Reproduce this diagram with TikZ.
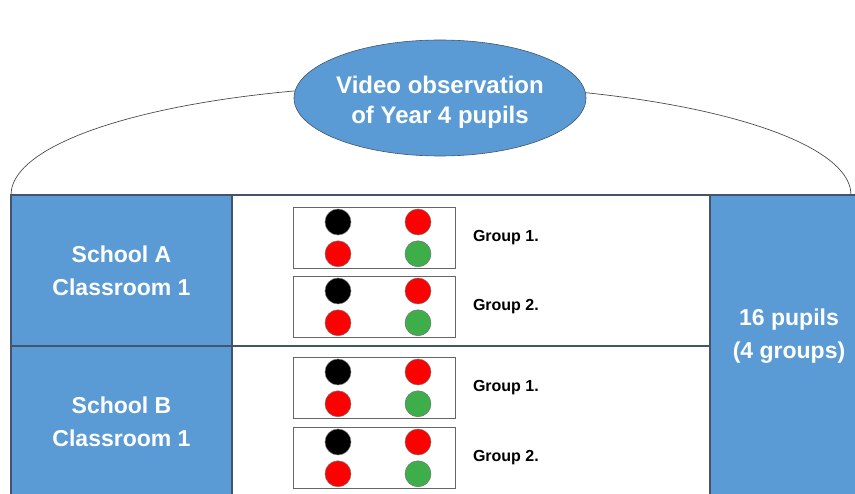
\documentclass[tikz,border=0pt]{standalone}
\usepackage{fontspec}
\setmainfont{Liberation Sans}
\usetikzlibrary{shapes.geometric}
\definecolor{cblue}{HTML}{5B9BD5}
\definecolor{cline}{HTML}{44546A}
\definecolor{cred}{HTML}{FF0000}
\definecolor{cgreen}{HTML}{3DAE49}
\begin{document}
\begin{tikzpicture}[x=1pt,y=-1pt,
  cell/.style={draw=cline,line width=1.2pt,anchor=north west,inner sep=0pt,outer sep=0pt},
  bluetext/.style={text=white,font=\bfseries\fontsize{23}{33}\selectfont,align=center},
  bluecell/.style={cell,fill=cblue,bluetext},
  whitecell/.style={cell,fill=white},
  grpbox/.style={draw=black!60,line width=0.8pt,fill=white,minimum width=162pt,minimum height=61pt,inner sep=0pt,anchor=north west},
  dot/.style={circle,draw=black!55,line width=0.5pt,minimum size=26pt,inner sep=0pt},
  grplabel/.style={anchor=west,font=\bfseries\fontsize{16}{18}\selectfont,inner sep=0pt}
]
\useasboundingbox (0,0) rectangle (855,494);
% arc behind ellipse
\draw[black!70,line width=0.7pt] (11,195) arc[start angle=180,end angle=0,x radius=420pt,y radius=110pt];
% table cells
\node[bluecell,minimum width=221pt,minimum height=151pt] (sa) at (11,195) {School A\\Classroom 1};
\node[bluecell,minimum width=221pt,minimum height=152pt] (sb) at (11,346) {School B\\Classroom 1};
\node[whitecell,minimum width=478pt,minimum height=151pt] (ma) at (232,195) {};
\node[whitecell,minimum width=478pt,minimum height=152pt] (mb) at (232,346) {};
\node[bluecell,minimum width=150pt,minimum height=302pt] (rc) at (710,195) {};
\node[bluetext,inner sep=0pt] (rcl) at (789,336) {16 pupils\\(4 groups)};
% ellipse
\node[ellipse,draw=cline,line width=0.6pt,fill=cblue,minimum width=292pt,minimum height=116pt,inner sep=0pt] (obs) at (440,98) {};
\node[text=white,font=\bfseries\fontsize{24}{30}\selectfont,align=center,inner sep=0pt] (obst) at (440,102) {Video observation\\of Year 4 pupils};
% group boxes
\foreach \n/\y/\lab in {g1/207/Group 1.,g2/276/Group 2.,g3/357/Group 1.,g4/427/Group 2.}{
  \node[grpbox] (\n) at (293,\y) {};
  \node[dot,fill=black] (\n a) at ([xshift=45pt,yshift=-15pt]\n.north west) {};
  \node[dot,fill=cred] (\n b) at ([xshift=125pt,yshift=-15pt]\n.north west) {};
  \node[dot,fill=cred] (\n c) at ([xshift=45pt,yshift=15pt]\n.south west) {};
  \node[dot,fill=cgreen] (\n d) at ([xshift=125pt,yshift=15pt]\n.south west) {};
  \node[grplabel] (\n l) at ([xshift=17pt]\n.east) {\lab};
}
\end{tikzpicture}
\end{document}
